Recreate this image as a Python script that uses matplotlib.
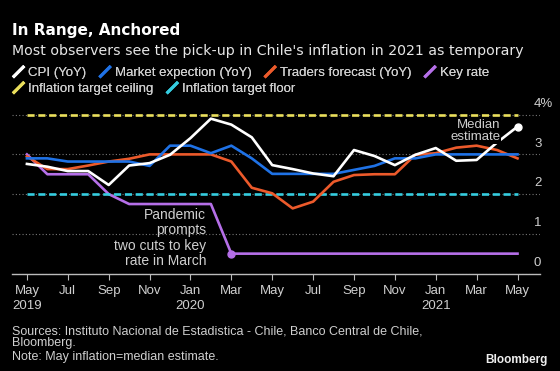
from matplotlib import pyplot as plt
from matplotlib.lines import Line2D
from matplotlib.legend_handler import HandlerBase
import matplotlib.transforms as mtransforms
import numpy as np
import pandas as pd

plt.rcParams['font.family'] = ['Liberation Sans', 'DejaVu Sans']

# Data, monthly May 2019 - May 2021
months = pd.period_range('2019-05', '2021-05', freq='M')
cpi = [2.76, 2.69, 2.58, 2.58, 2.23, 2.72, 2.78, 2.99, 3.41, 3.90, 3.75, 3.43, 2.73,
       2.63, 2.52, 2.45, 3.11, 2.96, 2.73, 2.99, 3.16, 2.84, 2.86, 3.30, 3.70]
market = [2.90, 2.90, 2.82, 2.82, 2.82, 2.82, 2.71, 3.22, 3.22, 3.03, 3.22, 2.90, 2.51,
          2.51, 2.51, 2.51, 2.61, 2.71, 2.90, 2.90, 3.00, 3.00, 3.00, 3.00, 3.00]
traders = [2.95, 2.63, 2.63, 2.72, 2.82, 2.89, 3.00, 3.00, 3.00, 3.00, 2.82, 2.16, 2.02,
           1.64, 1.81, 2.31, 2.48, 2.50, 2.50, 2.99, 3.03, 3.17, 3.22, 3.11, 2.90]
key_rate = [3.0, 2.5, 2.5, 2.5, 2.0, 1.75, 1.75, 1.75, 1.75, 1.75, 0.5, 0.5, 0.5,
            0.5, 0.5, 0.5, 0.5, 0.5, 0.5, 0.5, 0.5, 0.5, 0.5, 0.5, 0.5]
ceiling = [4.0, 4.0, 4.0, 4.0, 4.0, 4.0, 4.0, 4.0, 4.0, 4.0, 4.0, 4.0, 4.0,
           4.0, 4.0, 4.0, 4.0, 4.0, 4.0, 4.0, 4.0, 4.0, 4.0, 4.0, 4.0]
floor = [2.0, 2.0, 2.0, 2.0, 2.0, 2.0, 2.0, 2.0, 2.0, 2.0, 2.0, 2.0, 2.0,
         2.0, 2.0, 2.0, 2.0, 2.0, 2.0, 2.0, 2.0, 2.0, 2.0, 2.0, 2.0]
yticks = [0, 1, 2, 3, 4]
ytick_labels = ['0', '1', '2', '3', '4%']

x = np.arange(len(months))
xtick_labels = []
for i, m in enumerate(months[::2]):
    lab = m.strftime('%b')
    if i == 0 or m.month == 1:
        lab += '\n' + str(m.year)
    xtick_labels.append(lab)

WHITE = '#ffffff'
BLUE = '#1f72e6'
ORANGE = '#ec5a2b'
PURPLE = '#b56fe8'
YELLOW = '#eadf5c'
CYAN = '#35cde0'
TXT = '#cfcfcf'

fig = plt.figure(figsize=(5.6, 3.71), dpi=100, facecolor='black')
ax = fig.add_axes([12 / 560, (371 - 273.5) / 371, 528 / 560, 4.3 * 39.7 / 371])
ax.set_facecolor('black')
ax.set_xlim(-0.73, 25.1)
ax.set_ylim(0, 4.3)

lw = 1.9
ax.plot(x, key_rate, color=PURPLE, lw=lw, label='Key rate', zorder=3)
ax.plot(x, ceiling, color=YELLOW, lw=lw, dashes=(2.7, 1.4), label='Inflation target ceiling', zorder=3)
ax.plot(x, floor, color=CYAN, lw=lw, dashes=(2.7, 1.4), label='Inflation target floor', zorder=3)
ax.plot(x, traders, color=ORANGE, lw=lw, label='Traders forecast (YoY)', zorder=4)
ax.plot(x, market, color=BLUE, lw=lw, label='Market expection (YoY)', zorder=5)
ax.plot(x, cpi, color=WHITE, lw=lw, label='CPI (YoY)', zorder=6)
ax.plot(x[-1], cpi[-1], 'o', color=WHITE, ms=5, zorder=7)
ax.plot(x[10], key_rate[10], 'o', color=PURPLE, ms=5, zorder=7)

# axes styling
for s in ['top', 'right', 'left']:
    ax.spines[s].set_visible(False)
ax.spines['bottom'].set_color('#bbbbbb')
ax.spines['bottom'].set_linewidth(1)
ax.set_yticks(yticks)
ax.yaxis.grid(True, color='#777777', ls=(0, (1, 2)), lw=0.8)
ax.tick_params(axis='y', left=False, labelleft=False)
ax.set_xticks(x[::2])
ax.set_xticklabels(xtick_labels)
ax.tick_params(axis='x', length=4, color='#bbbbbb', labelcolor=TXT, labelsize=9.5, pad=4)
for lbl in ax.get_xticklabels():
    lbl.set_linespacing(1.4)

trans = mtransforms.blended_transform_factory(ax.transAxes, ax.transData)
for v, lab in zip(yticks, ytick_labels):
    ax.text(0.9886, v + 0.27, lab, transform=trans, ha='left', va='center',
            color=TXT, fontsize=9.5)

# annotations
ax.text(8.77, 0.894, 'Pandemic\nprompts\ntwo cuts to key\nrate in March', ha='right', va='center',
        multialignment='right', fontsize=10, color=TXT, linespacing=1.1)
ax.text(23.16, 3.58, 'Median\nestimate', ha='right', va='center', multialignment='right',
        fontsize=9.5, color=TXT, linespacing=1.0, zorder=10,
        bbox=dict(facecolor='black', edgecolor='none', pad=0.3))


class SlashHandler(HandlerBase):
    def create_artists(self, legend, orig_handle, xdescent, ydescent, width, height, fontsize, trans):
        x0, y0 = -xdescent, -ydescent
        l = Line2D([x0 + 0.15 * width, x0 + 0.85 * width], [y0, y0 + height],
                   color=orig_handle.get_color(), lw=2.2, transform=trans)
        return [l]


handles = {l.get_label(): l for l in ax.get_lines()}
row1 = ['CPI (YoY)', 'Market expection (YoY)', 'Traders forecast (YoY)', 'Key rate']
row2 = ['Inflation target ceiling', 'Inflation target floor']
for row, yy in [(row1, 73.2), (row2, 89.2)]:
    leg = fig.legend([handles[r] for r in row], row, loc='center left',
                     bbox_to_anchor=(12 / 560, 1 - yy / 371), ncol=len(row), frameon=False,
                     borderpad=0, borderaxespad=0, handlelength=1.0, handletextpad=0.25,
                     columnspacing=0.9, fontsize=9.5, labelcolor=TXT,
                     handler_map={Line2D: SlashHandler()})
    fig.add_artist(leg)

# titles
fig.text(12 / 560, 1 - 30 / 371, 'In Range, Anchored', fontsize=11, weight='bold',
         color=WHITE, va='center', family='DejaVu Sans')
fig.text(12 / 560, 1 - 51.5 / 371, "Most observers see the pick-up in Chile's inflation in 2021 as temporary",
         fontsize=10.2, color='#e6e6e6', va='center', family='DejaVu Sans')

# footer
fig.text(12 / 560, 1 - 337 / 371, 'Sources: Instituto Nacional de Estadistica - Chile, Banco Central de Chile,\nBloomberg.',
         fontsize=9, color=TXT, va='center', linespacing=1.0)
fig.text(12 / 560, 1 - 357 / 371, 'Note: May inflation=median estimate.', fontsize=9, color=TXT, va='center')
fig.text(548 / 560, 1 - 360 / 371, 'Bloomberg', fontsize=8.5, weight='bold', color='#eeeeee',
         ha='right', va='center')

fig.savefig('out.png', dpi=100, facecolor='black')
